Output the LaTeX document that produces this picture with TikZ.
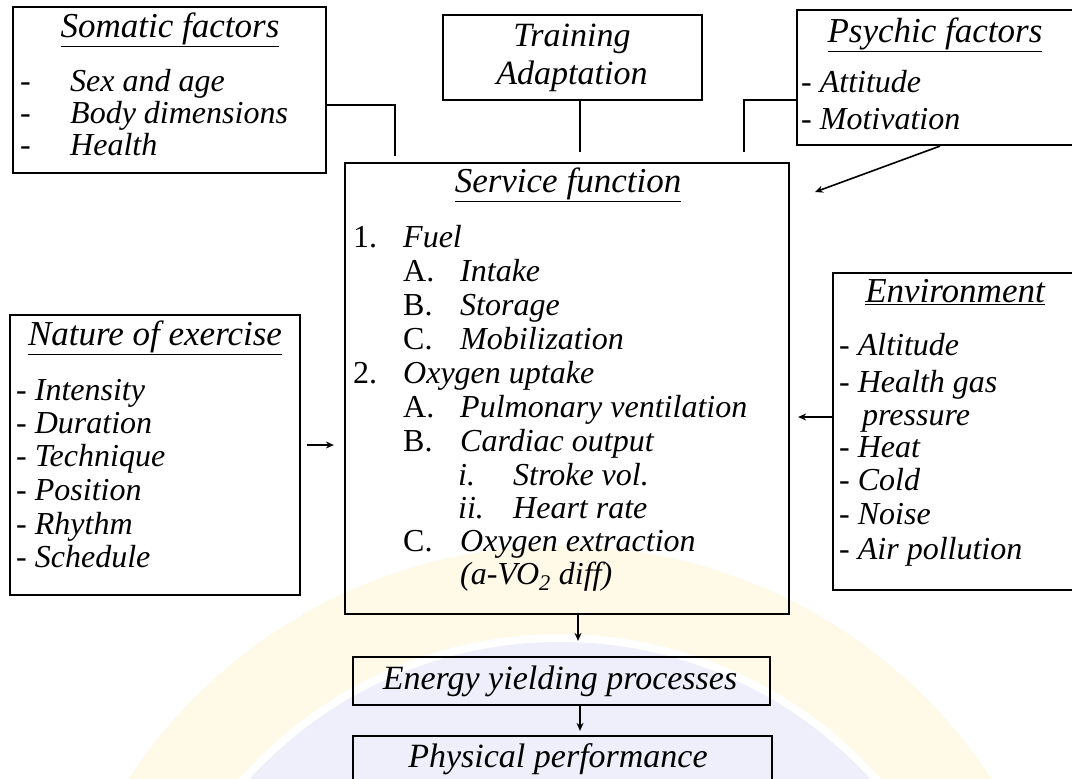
\documentclass[tikz,border=0pt]{standalone}
\usepackage{fontspec}
\setmainfont{Liberation Serif}
\usetikzlibrary{arrows.meta}
\definecolor{sealyellow}{HTML}{FFF9E8}
\definecolor{sealblue}{HTML}{EFEFFB}
\begin{document}
\begin{tikzpicture}[x=1pt,y=-1pt,
  box/.style={draw, line width=2.2pt, rectangle, inner sep=0pt},
  lbl/.style={inner sep=0pt, text height=22pt, text depth=7pt,
              font=\fontsize{32}{34}\selectfont\itshape},
  ttl/.style={lbl, font=\fontsize{35}{37}\selectfont\itshape},
  one/.style={lbl, font=\fontsize{34}{36}\selectfont\itshape},
  conn/.style={line width=2.2pt},
  arr/.style={line width=2.2pt, -{Stealth[length=8pt,width=7pt]}},
]
\useasboundingbox (0,0) rectangle (1072,779);
\fill[white] (0,0) rectangle (1072,779);

% faint seal in the background
\begin{scope}
  \clip (0,0) rectangle (1072,779);
  \fill[sealyellow, even odd rule] (560,1062) circle [radius=516pt] (560,1062) circle [radius=428pt];
  \fill[sealblue] (560,1062) circle [radius=420pt];
\end{scope}

% boxes
\node[box, minimum width=313pt, minimum height=166pt] (som)   at (169.5,90)  {};
\node[box, minimum width=259pt, minimum height=85pt]  (train) at (572.5,57.5) {};
\node[box, minimum width=277pt, minimum height=135pt] (psy)   at (935.5,77.5) {};
\node[box, minimum width=444pt, minimum height=451pt] (serv)  at (567,388.5) {};
\node[box, minimum width=290pt, minimum height=280pt] (nat)   at (155,455)   {};
\node[box, minimum width=241pt, minimum height=317pt] (env)   at (953.5,431.5) {};
\node[box, minimum width=417pt, minimum height=48pt]  (nrg)   at (561.5,681) {};
\node[box, minimum width=419pt, minimum height=70pt]  (phys)  at (562.5,771) {};

% Somatic factors
\node[ttl] (somT) at (170,30) {\underline{Somatic factors}};
\node[lbl, anchor=west] (somD1) at (20,84)  {\upshape -};
\node[lbl, anchor=west] (somD2) at (20,116) {\upshape -};
\node[lbl, anchor=west] (somD3) at (20,148) {\upshape -};
\node[lbl, anchor=west] (som1) at (70,84)  {Sex and age};
\node[lbl, anchor=west] (som2) at (70,116) {Body dimensions};
\node[lbl, anchor=west] (som3) at (70,148) {Health};

% Training
\node[one] (tr1) at (572,39) {Training};
\node[one] (tr2) at (572,77) {Adaptation};

% Psychic factors
\node[ttl] (psyT) at (935,35) {\underline{Psychic factors}};
\node[lbl, anchor=west] (psy1) at (801,85)  {- Attitude};
\node[lbl, anchor=west] (psy2) at (801,122) {- Motivation};

% Service function
\node[ttl] (servT) at (568,185) {\underline{Service function}};
\node[lbl, anchor=west] (sn1) at (353,240) {\upshape 1.};
\node[lbl, anchor=west] (sv1) at (403,240) {Fuel};
\node[lbl, anchor=west] (sn1a) at (403,274) {\upshape A.};
\node[lbl, anchor=west] (sv1a) at (460,274) {Intake};
\node[lbl, anchor=west] (sn1b) at (403,308) {\upshape B.};
\node[lbl, anchor=west] (sv1b) at (460,308) {Storage};
\node[lbl, anchor=west] (sn1c) at (403,342) {\upshape C.};
\node[lbl, anchor=west] (sv1c) at (460,342) {Mobilization};
\node[lbl, anchor=west] (sn2) at (353,376) {\upshape 2.};
\node[lbl, anchor=west] (sv2) at (403,376) {Oxygen uptake};
\node[lbl, anchor=west] (sn2a) at (403,410) {\upshape A.};
\node[lbl, anchor=west] (sv2a) at (460,410) {Pulmonary ventilation};
\node[lbl, anchor=west] (sn2b) at (403,444) {\upshape B.};
\node[lbl, anchor=west] (sv2b) at (460,444) {Cardiac output};
\node[lbl, anchor=west] (sn2bi) at (458,478) {i.};
\node[lbl, anchor=west] (sv2bi) at (513,478) {Stroke vol.};
\node[lbl, anchor=west] (sn2bii) at (458,511) {ii.};
\node[lbl, anchor=west] (sv2bii) at (513,511) {Heart rate};
\node[lbl, anchor=west] (sn2c) at (403,544) {\upshape C.};
\node[lbl, anchor=west] (sv2c) at (460,544) {Oxygen extraction};
\node[lbl, anchor=west] (sv2d) at (460,577) {(a-VO\textsubscript{2} diff)};

% Nature of exercise
\node[ttl] (natT) at (155,338) {\underline{Nature of exercise}};
\node[lbl, anchor=west] (nat1) at (16,393) {- Intensity};
\node[lbl, anchor=west] (nat2) at (16,426) {- Duration};
\node[lbl, anchor=west] (nat3) at (16,459) {- Technique};
\node[lbl, anchor=west] (nat4) at (16,493) {- Position};
\node[lbl, anchor=west] (nat5) at (16,527) {- Rhythm};
\node[lbl, anchor=west] (nat6) at (16,560) {- Schedule};

% Environment
\node[ttl] (envT) at (955,295) {\underline{Environment}};
\node[lbl, anchor=west] (env1) at (839,348) {- Altitude};
\node[lbl, anchor=west] (env2) at (839,385) {- Health gas};
\node[lbl, anchor=west] (env2b) at (862,418) {pressure};
\node[lbl, anchor=west] (env3) at (839,450) {- Heat};
\node[lbl, anchor=west] (env4) at (839,483) {- Cold};
\node[lbl, anchor=west] (env5) at (839,517) {- Noise};
\node[lbl, anchor=west] (env6) at (839,552) {- Air pollution};

% bottom chain
\node[one] (nrgT)  at (560,682) {Energy yielding processes};
\node[one] (physT) at (558,760) {Physical performance};

% connector end points
\coordinate (somout)   at ([yshift=-15pt]som.east);
\coordinate (somin)    at ([xshift=51pt]serv.north west);
\coordinate (trainout) at ([xshift=7.5pt]train.south);
\coordinate (psyout)   at ([yshift=-22.5pt]psy.west);
\coordinate (psyin)    at ([xshift=400pt]serv.north west);
\coordinate (psyfoot)  at ([xshift=4.5pt]psy.south);
\coordinate (psytip)   at (815,192);
\coordinate (natout)   at ([yshift=10pt]nat.east);
\coordinate (envout)   at ([yshift=14.5pt]env.west);
\coordinate (servout)  at ([xshift=11pt]serv.south);
\coordinate (nrgout)   at ([xshift=18.5pt]nrg.south);

% connectors
\draw[conn, shorten >=6pt]  (somout) -| (somin);
\draw[conn, shorten >=10pt] (trainout) -- (trainout |- serv.north);
\draw[conn, shorten >=10pt] (psyout) -| (psyin);
\draw[arr, line width=1.6pt] (psyfoot) -- (psytip);
\draw[arr, shorten <=6pt, shorten >=10pt] (natout) -- (natout -| serv.west);
\draw[arr, shorten >=8pt] (envout) -- (envout -| serv.east);
\draw[arr, shorten >=15pt] (servout) -- (servout |- nrg.north);
\draw[arr, shorten >=4pt] (nrgout) -- (nrgout |- phys.north);
\end{tikzpicture}
\end{document}
